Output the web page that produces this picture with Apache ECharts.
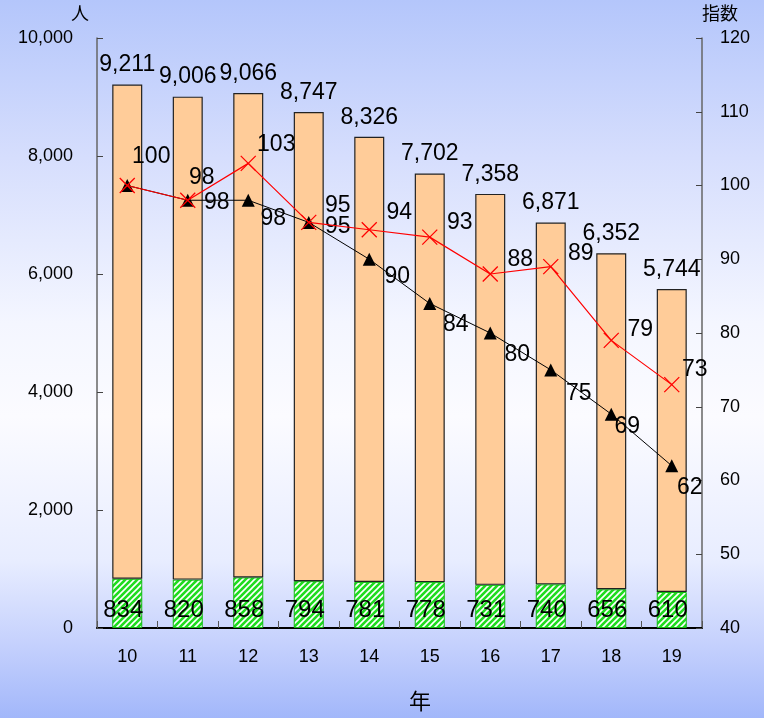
<!DOCTYPE html>
<html>
<head>
<meta charset="utf-8">
<script src="https://cdn.jsdelivr.net/npm/echarts@6/dist/echarts.min.js"></script>
<style>
  html, body { margin: 0; padding: 0; }
  body {
    width: 764px; height: 718px; overflow: hidden;
    background: linear-gradient(to bottom, #b4c6fb 0%, #d6defd 22%, #f4f6ff 45%, #fbfbff 58%, #e8edff 78%, #c4d0fd 90%, #a2b7fa 100%);
  }
  #chart { width: 764px; height: 718px; }
</style>
</head>
<body>
<div id="chart"></div>
<script>
// 年次カテゴリ
const years = ['10', '11', '12', '13', '14', '15', '16', '17', '18', '19'];
// 総数（人）
const totals = [9211, 9006, 9066, 8747, 8326, 7702, 7358, 6871, 6352, 5744];
// 内数（人）
const subset = [834, 820, 858, 794, 781, 778, 731, 740, 656, 610];
// 総数の指数
const totalIndex = [100, 98, 98, 95, 90, 84, 80, 75, 69, 62];
// 内数の指数
const subsetIndex = [100, 98, 103, 95, 94, 93, 88, 89, 79, 73];
// 目盛り
const leftTicks = { min: 0, max: 10000, interval: 2000 };
const rightTicks = { min: 40, max: 120, interval: 10 };

// label offsets for the index lines (x, y in px from the point); null hides the label
const subsetLabelOffsets = [[24,-29],[14,-23],[28,-19],[29,-17],[30,-17],[30,-14],[30,-14],[30,-13],[29,-11],[23,-15]];
const totalLabelOffsets  = [null,[29,2],[25,18],[29,4],[28,17],[26,21],[27,22],[28,24],[16,13],[18,22]];

// striped green fill
function stripePattern() {
  const s = 6;
  const c = document.createElement('canvas');
  c.width = s; c.height = s;
  const g = c.getContext('2d');
  g.fillStyle = '#1fdc1f';
  g.fillRect(0, 0, s, s);
  g.strokeStyle = '#ffffff';
  g.lineWidth = 1.6;
  g.beginPath();
  g.moveTo(0, s); g.lineTo(s, 0);
  g.moveTo(-s / 2, s / 2); g.lineTo(s / 2, -s / 2);
  g.moveTo(s / 2, s + s / 2); g.lineTo(s + s / 2, s / 2);
  g.stroke();
  return c;
}

const upper = totals.map((t, i) => t - subset[i]);
const numFont = 'Liberation Sans, Arial, sans-serif';
const fmt = v => Number(v).toLocaleString('en-US');

function pointLabel(offset) {
  return offset ? { offset: offset } : { show: false };
}

const chart = echarts.init(document.getElementById('chart'), null, { renderer: 'canvas' });

chart.setOption({
  backgroundColor: 'transparent',
  animation: false,
  grid: { left: 97, right: 62, top: 38, bottom: 90 },
  xAxis: {
    type: 'category',
    data: years,
    axisLine: { lineStyle: { color: '#000', width: 2 } },
    axisTick: { show: true, inside: true, length: 7, alignWithLabel: false, lineStyle: { color: '#555', width: 1 } },
    axisLabel: { color: '#000', fontFamily: numFont, fontSize: 18, margin: 20 },
    splitLine: { show: false }
  },
  yAxis: [
    {
      type: 'value',
      min: leftTicks.min, max: leftTicks.max, interval: leftTicks.interval,
      name: '人',
      nameLocation: 'end',
      nameGap: 16,
      nameTextStyle: { color: '#000', fontFamily: 'Noto Sans CJK JP', fontSize: 18, align: 'right', padding: [0, 8, 0, 0] },
      axisLine: { show: true, lineStyle: { color: '#666', width: 1.5 } },
      axisTick: { show: true, inside: true, length: 6, lineStyle: { color: '#444' } },
      axisLabel: { color: '#000', fontFamily: numFont, fontSize: 18, margin: 24, formatter: fmt },
      splitLine: { show: false }
    },
    {
      type: 'value',
      min: rightTicks.min, max: rightTicks.max, interval: rightTicks.interval,
      name: '指数',
      nameLocation: 'end',
      nameGap: 16,
      nameTextStyle: { color: '#000', fontFamily: 'Noto Sans CJK JP', fontSize: 18, align: 'left', padding: [0, 0, 0, 0] },
      axisLine: { show: true, lineStyle: { color: '#666', width: 1.5 } },
      axisTick: { show: true, inside: true, length: 6, lineStyle: { color: '#444' } },
      axisLabel: { color: '#000', fontFamily: numFont, fontSize: 18, margin: 18 },
      splitLine: { show: false }
    }
  ],
  graphic: [{
    type: 'text',
    left: 409, top: 690,
    style: { text: '年', fill: '#000', font: '22px "Noto Sans CJK JP"' }
  }],
  series: [
    {
      name: '内数',
      type: 'bar',
      stack: 'people',
      barWidth: 30,
      data: subset,
      itemStyle: { color: { image: stripePattern(), repeat: 'repeat' }, borderColor: '#14b814', borderWidth: 1 },
      label: {
        show: true, position: 'insideBottom', distance: 6, offset: [-4, 0],
        color: '#000', fontFamily: numFont, fontSize: 24
      },
      z: 2
    },
    {
      name: '総数',
      type: 'bar',
      stack: 'people',
      barWidth: 30,
      data: upper,
      itemStyle: { color: '#ffcc99', borderColor: '#222', borderWidth: 1.2 },
      label: {
        show: true, position: 'top', distance: 8,
        color: '#000', fontFamily: numFont, fontSize: 23,
        formatter: p => fmt(totals[p.dataIndex])
      },
      z: 2
    },
    {
      name: '総数指数',
      type: 'line',
      yAxisIndex: 1,
      data: totalIndex.map((v, i) => ({ value: v, label: pointLabel(totalLabelOffsets[i]) })),
      lineStyle: { color: '#000', width: 1 },
      symbol: 'triangle',
      symbolSize: 13,
      itemStyle: { color: '#000' },
      label: { show: true, position: 'inside', color: '#000', fontFamily: numFont, fontSize: 23 },
      z: 3
    },
    {
      name: '内数指数',
      type: 'line',
      yAxisIndex: 1,
      data: subsetIndex.map((v, i) => ({ value: v, label: pointLabel(subsetLabelOffsets[i]) })),
      lineStyle: { color: '#ff0000', width: 1.2 },
      symbol: 'path://M0,0L10,10M10,0L0,10',
      symbolSize: 15,
      itemStyle: { color: 'rgba(0,0,0,0)', borderColor: '#ff0000', borderWidth: 1.3 },
      label: { show: true, position: 'inside', color: '#000', fontFamily: numFont, fontSize: 23 },
      z: 4
    }
  ]
});
</script>
</body>
</html>
